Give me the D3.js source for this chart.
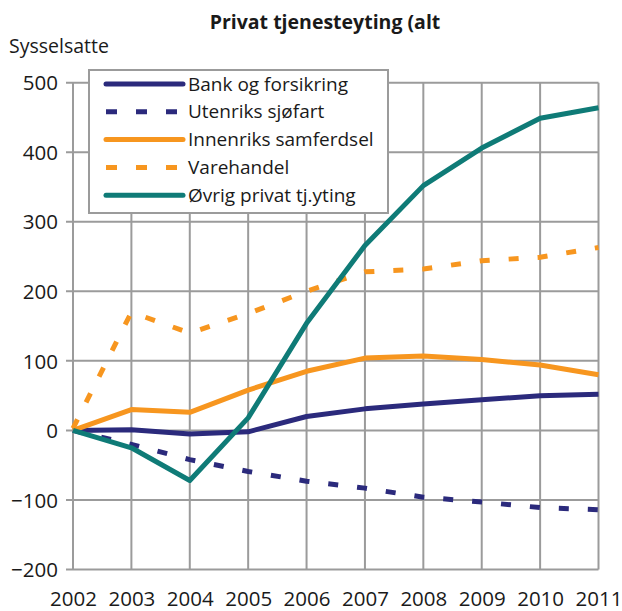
<!DOCTYPE html>
<html>
<head>
<meta charset="utf-8">
<script src="https://cdn.jsdelivr.net/npm/d3@7"></script>
<style>
  body { margin: 0; background: #fff; }
  svg text { font-family: "Open Sans", "Noto Sans", sans-serif; fill: #1a1a1a; }
</style>
</head>
<body>
<svg id="chart" width="622" height="611"></svg>
<script>
// ---- data ----
const years = [2002, 2003, 2004, 2005, 2006, 2007, 2008, 2009, 2010, 2011]
const yTicks = [-200, -100, 0, 100, 200, 300, 400, 500]

const bankForsikring = [0, 1, -5, -2, 20, 31, 38, 44, 50, 52]
const utenriksSjofart = [0, -20, -42, -59, -73, -83, -96, -103, -111, -114]
const innenriksSamferdsel = [0, 30, 26, 58, 85, 104, 107, 102, 94, 80]
const varehandel = [3, 170, 140, 168, 200, 228, 232, 244, 249, 263]
const ovrigPrivat = [0, -25, -72, 18, 154, 266, 352, 406, 449, 464]

const series = [
    { name: 'Bank og forsikring', values: bankForsikring, color: '#2b2a7c', dashed: false },
    { name: 'Utenriks sjøfart', values: utenriksSjofart, color: '#2b2a7c', dashed: true },
    { name: 'Innenriks samferdsel', values: innenriksSamferdsel, color: '#f7961f', dashed: false },
    { name: 'Varehandel', values: varehandel, color: '#f7961f', dashed: true },
    { name: 'Øvrig privat tj.yting', values: ovrigPrivat, color: '#0f7b77', dashed: false }
]

// ---- layout ----
let svg = d3.select('#chart')
let plotLeft = 73, plotRight = 598.5, plotTop = 82.7, plotBottom = 569.5
let gridColor = '#9b9b9b'

let x = d3.scalePoint().domain(years).range([plotLeft, plotRight])
let y = d3.scaleLinear().domain([-200, 500]).range([plotBottom, plotTop])

// title & axis label
svg.append('text')
    .attr('x', 325).attr('y', 29)
    .attr('text-anchor', 'middle')
    .style('font-weight', 'bold')
    .style('font-size', '19.5px')
    .text('Privat tjenesteyting (alt')

svg.append('text')
    .attr('x', 9).attr('y', 53)
    .style('font-size', '19.5px')
    .text('Sysselsatte')

// grid
let g = svg.append('g')

g.append('g')
    .selectAll('line')
    .data(yTicks)
    .enter().append('line')
    .attr('x1', plotLeft - 7).attr('x2', plotRight)
    .attr('y1', d => y(d)).attr('y2', d => y(d))
    .attr('stroke', gridColor).attr('stroke-width', 2)

g.append('g')
    .selectAll('line')
    .data(years)
    .enter().append('line')
    .attr('x1', d => x(d)).attr('x2', d => x(d))
    .attr('y1', plotTop).attr('y2', plotBottom)
    .attr('stroke', gridColor).attr('stroke-width', 2)

// axis labels via d3 axes (domain/ticks hidden, grid drawn above)
let yAxis = svg.append('g')
    .attr('transform', 'translate(' + (plotLeft - 15) + ',0)')
    .call(d3.axisLeft(y).tickValues(yTicks).tickSize(0).tickPadding(0))
yAxis.select('.domain').remove()
yAxis.selectAll('text')
    .style('font-size', '20.5px')
    .style('font-family', '"Open Sans", sans-serif')
    .attr('fill', '#1a1a1a')
    .attr('dy', '0.35em')

let xAxis = svg.append('g')
    .attr('transform', 'translate(0,' + (plotBottom + 22) + ')')
    .call(d3.axisBottom(x).tickSize(0).tickPadding(0).tickFormat(d3.format('d')))
xAxis.select('.domain').remove()
xAxis.selectAll('text')
    .style('font-size', '20.5px')
    .style('font-family', '"Open Sans", sans-serif')
    .attr('fill', '#1a1a1a')

// lines
let line = d3.line()
    .x((d, i) => x(years[i]))
    .y(d => y(d))

svg.append('g')
    .selectAll('path')
    .data(series)
    .enter().append('path')
    .attr('d', d => line(d.values))
    .attr('fill', 'none')
    .attr('stroke', d => d.color)
    .attr('stroke-width', 5)
    .attr('stroke-linejoin', 'round')
    .attr('stroke-dasharray', d => d.dashed ? '10,19' : null)

// legend
let legend = svg.append('g')
legend.append('rect')
    .attr('x', 89).attr('y', 70)
    .attr('width', 299).attr('height', 143)
    .attr('fill', '#fff')
    .attr('stroke', gridColor).attr('stroke-width', 2)

let items = legend.selectAll('.item')
    .data(series)
    .enter().append('g')
    .attr('class', 'item')
    .attr('transform', (d, i) => 'translate(0,' + (84 + i * 27.8) + ')')

items.append('line')
    .attr('x1', 106).attr('x2', 183)
    .attr('y1', 0).attr('y2', 0)
    .attr('stroke', d => d.color)
    .attr('stroke-width', 5)
    .attr('stroke-linecap', d => d.dashed ? 'butt' : 'round')
    .attr('stroke-dasharray', d => d.dashed ? '11,19' : null)

items.append('text')
    .attr('x', 188).attr('y', 0)
    .attr('dy', '0.35em')
    .style('font-size', '19px')
    .text(d => d.name)
</script>
</body>
</html>
